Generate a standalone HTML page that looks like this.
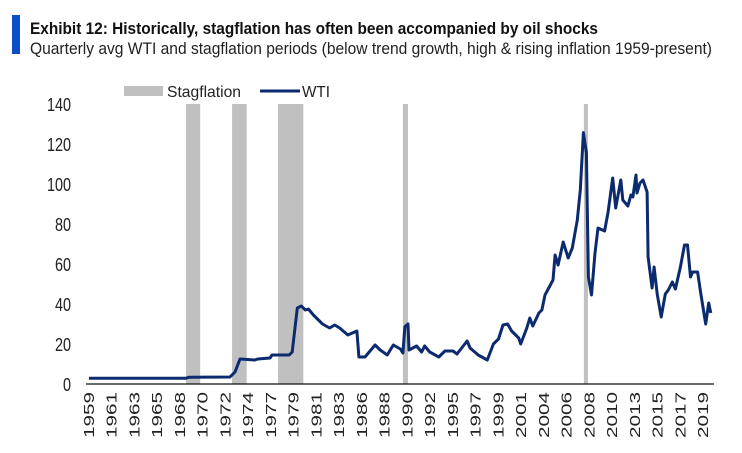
<!DOCTYPE html>
<html><head><meta charset="utf-8"><style>
body{margin:0;background:#fff;width:742px;height:448px;overflow:hidden;font-family:"Liberation Sans Narrow","Liberation Sans",sans-serif;}
</style></head><body>
<svg width="742" height="448" xmlns="http://www.w3.org/2000/svg">
<rect x="12" y="15" width="8" height="39" fill="#0a4fc8"/>
<text x="30" y="34" font-size="17" font-weight="bold" fill="#111" textLength="568" lengthAdjust="spacingAndGlyphs">Exhibit 12: Historically, stagflation has often been accompanied by oil shocks</text>
<text x="30" y="54" font-size="16.5" fill="#222" textLength="682" lengthAdjust="spacingAndGlyphs">Quarterly avg WTI and stagflation periods (below trend growth, high &amp; rising inflation 1959-present)</text>
<g>
<rect x="124" y="86" width="39" height="10" fill="#c0c0c0"/>
<text x="167" y="97" font-size="16" fill="#222" textLength="74" lengthAdjust="spacingAndGlyphs">Stagflation</text>
<line x1="260" y1="91" x2="300" y2="91" stroke="#0c2a6e" stroke-width="3"/>
<text x="302" y="97" font-size="16" fill="#222" textLength="28" lengthAdjust="spacingAndGlyphs">WTI</text>
</g>
<g id="bands"></g><g id="yaxis"></g><g id="xaxis"></g><g id="series"></g>
</svg>
<script>
const stagStart=[1968.6,1973.15,1977.7,1990.05,2007.95];
const stagEnd=[1970.0,1974.6,1980.2,1990.55,2008.35];
const wtiYears=[1959,1968.6,1968.9,1972.95,1973.44,1973.94,1975.4,1975.7,1976.9,1977.1,1978.8,1979.1,1979.6,1980.0,1980.4,1980.7,1981.2,1982.1,1982.8,1983.3,1983.8,1984.6,1985.5,1985.7,1986.3,1987.3,1987.8,1988.5,1989.1,1989.8,1990.05,1990.25,1990.55,1990.65,1991.4,1991.9,1992.2,1992.7,1993.6,1994.2,1995.0,1995.4,1996.4,1996.7,1997.5,1998.4,1999.0,1999.5,1999.95,2000.4,2000.8,2001.5,2001.7,2002.3,2002.6,2002.9,2003.5,2003.8,2004.1,2004.9,2005.1,2005.4,2005.9,2006.4,2006.8,2007.3,2007.6,2007.9,2008.2,2008.4,2008.7,2009.05,2009.35,2010.0,2010.35,2010.8,2011.1,2011.6,2011.8,2012.3,2012.6,2012.8,2013.1,2013.2,2013.5,2013.8,2014.2,2014.3,2014.7,2014.9,2015.2,2015.6,2016.0,2016.3,2016.7,2017.0,2017.5,2017.9,2018.2,2018.5,2018.7,2019.2,2019.5,2020.0,2020.3,2020.5];
const wtiValues=[2.9,2.9,3.4,3.5,6,12.5,12,12.5,13,14.5,14.5,16,38,39,37,37.5,34.5,30,28,29.5,28,24.5,26.5,13.5,13.5,19.5,17,14.5,19.5,17.5,15.5,28.7,30,17,19,16,19,16,13.5,16.5,16.5,15,21.5,18,14.5,12,20,22.5,29.5,30,26.5,23,20,28,33,29,35.5,37,44.5,52,64.5,59.5,71,63,68,82,97,125.7,115.5,53.5,44.5,65.5,78,76.5,86,103,88,102,92,89,94.5,93.5,104.5,95.5,100.5,102,96,63.5,48,58.5,45,33.5,45,47,51,47.5,58.5,69.5,69.5,53.5,56,56,45.5,30,40.5,35.5];
const yTicks=[0,20,40,60,80,100,120,140];
const xLabels=["1959","1961","1963","1965","1968","1970","1972","1974","1977","1979","1981","1983","1986","1988","1990","1992","1995","1997","1999","2001","2004","2006","2008","2010","2013","2015","2017","2019"];
const NS="http://www.w3.org/2000/svg";
const X0=89,PXY=10.11,Y0=384,PXV=2;
const xs=y=>X0+(y-1959)*PXY, ys=v=>Y0-v*PXV;
function mk(t,a,p){const e=document.createElementNS(NS,t);for(const k in a)e.setAttribute(k,a[k]);document.getElementById(p).appendChild(e);return e;}
stagStart.forEach((s,i)=>{const r=mk('rect',{x:xs(s),y:ys(140),width:xs(stagEnd[i])-xs(s),height:ys(0)-ys(140),fill:'#c0c0c0'},'bands');

});
yTicks.forEach(v=>{const s=String(v);const t=mk('text',{x:71,y:ys(v)+7,'text-anchor':'end','font-size':18,fill:'#222',textLength:s.length*8,lengthAdjust:'spacingAndGlyphs'},'yaxis');t.textContent=s;

});
const ax=mk('line',{x1:86,y1:Y0,x2:714,y2:Y0,stroke:'#111','stroke-width':1.2},'xaxis');


xLabels.forEach((l,i)=>{const x=xs(1959+i*9/4);const t=mk('text',{x:0,y:0,transform:`translate(${x+5},392) rotate(-90)`,'text-anchor':'end','font-size':15,fill:'#222',textLength:46,lengthAdjust:'spacingAndGlyphs'},'xaxis');t.textContent=l;

});
const d=wtiYears.map((y,i)=>(i?'L':'M')+xs(y).toFixed(1)+','+ys(wtiValues[i]).toFixed(1)).join('');
const p=mk('path',{d:d,fill:'none',stroke:'#0c2a6e','stroke-width':3,'stroke-linejoin':'round'},'series');


</script>
</body></html>
